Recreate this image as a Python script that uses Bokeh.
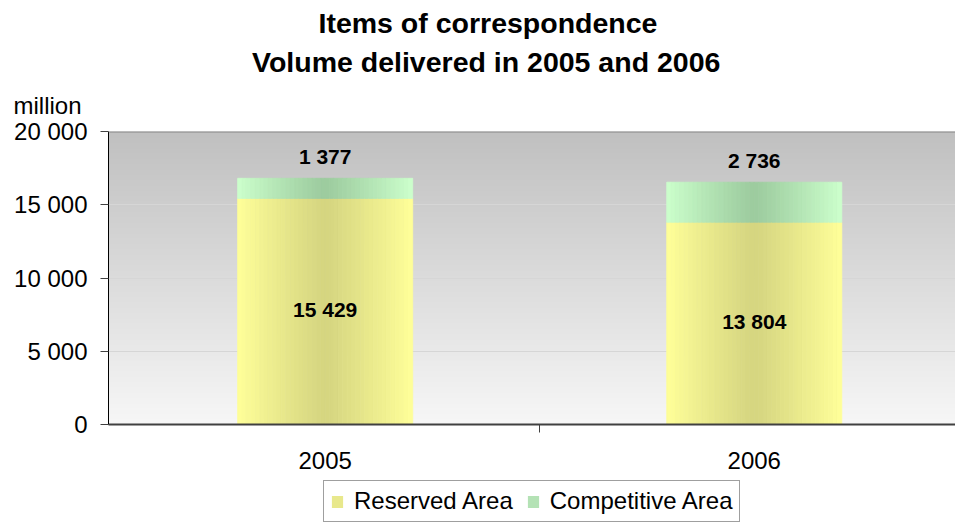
import numpy as np
from bokeh.plotting import figure
from bokeh.layouts import column
from bokeh.core.properties import value
from bokeh.models import (ColumnDataSource, Range1d, FixedTicker, Title, LabelSet,
                          Legend, LegendItem, Span)
from bokeh.transform import dodge
from bokeh.embed import file_html
from bokeh.resources import INLINE

# ---- data ----
years = ["2005", "2006"]
reserved = [15429, 13804]
competitive = [1377, 2736]
series_names = ["Reserved Area", "Competitive Area"]
y_ticks = [0, 5000, 10000, 15000, 20000]
y_tick_labels = ["0", "5 000", "10 000", "15 000", "20 000"]
title_lines = ["Items of correspondence", "Volume delivered in 2005 and 2006"]
unit_label = "million"

FONT = "Liberation Sans"
Y_MAX = y_ticks[-1]
X_START = -0.005
X_END = 1.969
BW = 0.408
N = 40
FRAME_LEFT = 108

def fmt(v):
    return f"{v:,}".replace(",", " ")

xs = [i + 0.5 for i in range(len(years))]
total = [r + c for r, c in zip(reserved, competitive)]
src = ColumnDataSource(dict(
    x=xs, reserved=reserved, competitive=competitive, total=total,
    mid=[r / 2 for r in reserved],
    rlab=[fmt(v) for v in reserved], clab=[fmt(v) for v in competitive],
))

p = figure(width=955, height=480, output_backend="svg", toolbar_location=None,
           x_range=Range1d(X_START, X_END), y_range=Range1d(0, Y_MAX),
           min_border_left=FRAME_LEFT, min_border_right=0, min_border_top=130,
           min_border_bottom=56, title=None, outline_line_color=None,
           background_fill_color="white", border_fill_color="white")

# background vertical gradient
H = 300
f = np.linspace(0, 1, H)
top_c = np.array([0xC0, 0xC0, 0xC0])
bot_c = np.array([0xF7, 0xF7, 0xF7])
rgb = (bot_c[None, :] * (1 - f[:, None]) + top_c[None, :] * f[:, None]).astype(np.uint8)
img = np.empty((H, 1), dtype=np.uint32)
view = img.view(dtype=np.uint8).reshape((H, 1, 4))
view[:, 0, 0] = rgb[:, 0]
view[:, 0, 1] = rgb[:, 1]
view[:, 0, 2] = rgb[:, 2]
view[:, 0, 3] = 255
p.image_rgba(image=[img], x=X_START, y=0, dw=X_END - X_START, dh=Y_MAX, level="image")

# gradient bars via stripes
def hexc(rgbv):
    return "#%02x%02x%02x" % tuple(int(round(v)) for v in rgbv)

def lerp(a, b, t):
    return [a[i] + (b[i] - a[i]) * t for i in range(3)]

y_light, y_dark = (0xFF, 0xFF, 0x99), (0xD5, 0xD5, 0x80)
g_light, g_dark = (0xCC, 0xFF, 0xCC), (0x9C, 0xCB, 0x9E)

for k in range(N):
    off = (k + 0.5) / N - 0.5
    t = min(1.0, abs(off) * 2)
    tt = t ** 1.1
    cy = hexc(lerp(y_dark, y_light, tt))
    cg = hexc(lerp(g_dark, g_light, tt))
    p.vbar(x=dodge("x", off * BW, range=p.x_range), width=BW / N, bottom=0, top="reserved",
           source=src, fill_color=cy, line_color=cy, line_width=0.8)
    p.vbar(x=dodge("x", off * BW, range=p.x_range), width=BW / N, bottom="reserved", top="total",
           source=src, fill_color=cg, line_color=cg, line_width=0.8)

# data labels
p.add_layout(LabelSet(x="x", y="mid", text="rlab", source=src, text_align="center",
                      text_baseline="middle", text_font=value(FONT), text_font_size="21px",
                      text_font_style="bold", text_color="black", y_offset=2))
p.add_layout(LabelSet(x="x", y="total", text="clab", source=src, text_align="center",
                      text_baseline="alphabetic", y_offset=14, text_font=value(FONT),
                      text_font_size="21px", text_font_style="bold", text_color="black"))

# top border
p.add_layout(Span(location=Y_MAX, dimension="width", line_color="#858585", line_width=2))

# axes
p.xgrid.visible = False
p.ygrid.grid_line_color = "#d6d6d6"
p.ygrid.grid_line_width = 1

yax = p.yaxis[0]
yax.ticker = FixedTicker(ticks=y_ticks, minor_ticks=[])
yax.major_label_overrides = {t: l for t, l in zip(y_ticks, y_tick_labels)}
yax.major_label_text_font = FONT
yax.major_label_text_font_size = "24px"
yax.major_label_text_color = "black"
yax.axis_line_color = "black"
yax.major_tick_line_color = "#404040"
yax.major_tick_out = 8
yax.major_tick_in = 0
yax.major_label_standoff = 13

xax = p.xaxis[0]
xax.ticker = FixedTicker(ticks=xs, minor_ticks=list(range(1, len(years) + 1)))
xax.major_label_overrides = {x: y for x, y in zip(xs, years)}
xax.major_label_text_font = FONT
xax.major_label_text_font_size = "24px"
xax.major_label_text_color = "black"
xax.axis_line_color = "#404040"
xax.axis_line_width = 2
xax.major_tick_line_color = None
xax.major_tick_out = 0
xax.major_tick_in = 0
xax.minor_tick_line_color = "#404040"
xax.minor_tick_out = 8
xax.minor_tick_in = 0
xax.major_label_standoff = 19

# titles (innermost first)
p.add_layout(Title(text=unit_label, align="left", offset=-95, text_font=FONT,
                   text_font_size="24px", text_font_style="normal", text_color="black",
                   standoff=25), "above")
p.add_layout(Title(text=title_lines[1], align="left", offset=143.5, text_font=FONT,
                   text_font_size="28.5px", text_font_style="bold", text_color="black",
                   standoff=0), "above")
p.add_layout(Title(text=title_lines[0], align="left", offset=210, text_font=FONT,
                   text_font_size="28.5px", text_font_style="bold", text_color="black",
                   standoff=9), "above")

# legend in its own strip below the chart (frames are aligned with the chart)
q = figure(width=955, height=45, output_backend="svg", toolbar_location=None,
           x_range=Range1d(0, 1), y_range=Range1d(0, 1), min_border=0,
           outline_line_color=None, title=None, border_fill_color="white",
           background_fill_color="white")
q.axis.visible = False
q.grid.visible = False
dummy = ColumnDataSource(dict(x=[-10], t=[0]))
r_res = q.vbar(x="x", top="t", width=0.1, source=dummy, fill_color="#E8E88C", line_color=None)
r_com = q.vbar(x="x", top="t", width=0.1, source=dummy, fill_color="#B4E2B5", line_color=None)
legend = Legend(items=[LegendItem(label=series_names[0], renderers=[r_res]),
                       LegendItem(label=series_names[1], renderers=[r_com])],
                orientation="horizontal", location=(323 - FRAME_LEFT, 3),
                label_text_font=FONT, label_text_font_size="24px", label_text_color="black",
                glyph_width=14, glyph_height=15, label_standoff=10, spacing=13,
                padding=6, margin=0, border_line_color="#404040", border_line_width=1,
                background_fill_color="white")
q.add_layout(legend)

layout = column(p, q, spacing=0)
open("out.html", "w").write(file_html(layout, INLINE))
